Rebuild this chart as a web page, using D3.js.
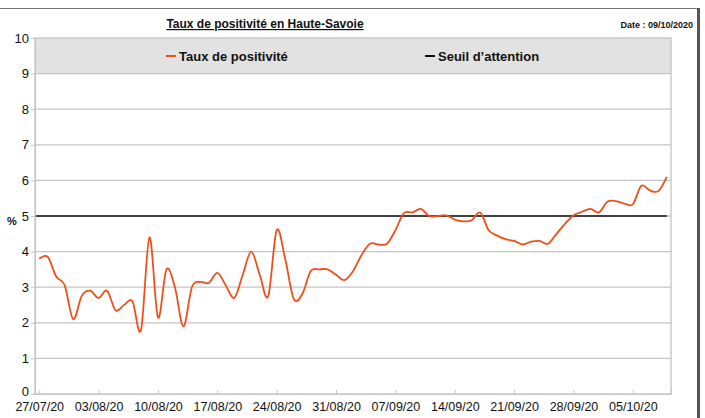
<!DOCTYPE html>
<html><head><meta charset="utf-8">
<script src="https://cdn.jsdelivr.net/npm/d3@7"></script>
<style>body{margin:0;background:#fff}svg{display:block;font-family:"Liberation Sans",Arial,sans-serif}</style>
</head><body><svg id="c" width="705" height="418"></svg>
<script>
const startDate = "2020-07-27";
const positivite = [3.8,3.85,3.3,3.05,2.1,2.75,2.9,2.7,2.9,2.35,
2.5,2.6,1.8,4.4,2.15,3.5,3.0,1.9,3.0,3.15,
3.12,3.4,3.05,2.7,3.35,4.0,3.35,2.75,4.6,3.8,
2.68,2.8,3.45,3.5,3.5,3.35,3.2,3.45,3.9,4.22,
4.2,4.22,4.6,5.08,5.1,5.2,5.0,5.0,5.02,4.9,
4.85,4.88,5.1,4.6,4.45,4.35,4.3,4.2,4.28,4.3,
4.22,4.5,4.78,5.02,5.12,5.2,5.1,5.4,5.42,5.35,
5.33,5.85,5.72,5.7,6.1];
const seuil = 5;
const yTicks = [0,1,2,3,4,5,6,7,8,9,10];
const xTickLabels = ["27/07/20","03/08/20","10/08/20","17/08/20","24/08/20","31/08/20","07/09/20","14/09/20","21/09/20","28/09/20","05/10/20"];
const titre = "Taux de positivité en Haute-Savoie";
const dateTxt = "Date : 09/10/2020";
const legendNames = ["Taux de positivité","Seuil d\u2019attention"];

const parse = d3.timeParse("%Y-%m-%d");
const t0 = parse(startDate);
const dates = positivite.map((v,i)=>d3.timeDay.offset(t0,i));
const data = positivite.map((v,i)=>({date:dates[i], v}));
const half = 12*3600*1000;

const svg = d3.select("#c");
const L=35, R=671, T=38, B=394;
const x = d3.scaleTime().domain([new Date(+dates[0]-half), new Date(+dates[dates.length-1]+half)]).range([L,R]);
const y = d3.scaleLinear().domain([0,10]).range([B,T]);

// frame
svg.append("line").attr("x1",0).attr("x2",699).attr("y1",8.5).attr("y2",8.5).attr("stroke","#777").attr("stroke-width",1);
svg.append("line").attr("x1",698.5).attr("x2",698.5).attr("y1",8).attr("y2",418).attr("stroke","#555").attr("stroke-width",3);

// legend band
svg.append("rect").attr("x",L).attr("y",y(10)).attr("width",R-L).attr("height",y(9)-y(10)).attr("fill","#e2e2e2");

// gridlines
svg.append("g").selectAll("line").data(yTicks.filter(d=>d>0&&d<10)).join("line")
  .attr("x1",L).attr("x2",R).attr("y1",d=>y(d)).attr("y2",d=>y(d))
  .attr("stroke","#c4c4c4").attr("stroke-width",1.3);

// plot border
svg.append("rect").attr("x",L).attr("y",T).attr("width",R-L).attr("height",B-T).attr("fill","none").attr("stroke","#c4c4c4").attr("stroke-width",1.3);

// y axis
const yAx = svg.append("g").attr("transform",`translate(${L},0)`)
  .call(d3.axisLeft(y).tickValues(yTicks).tickSize(4).tickPadding(2).tickFormat(d3.format("d")));
yAx.select(".domain").attr("stroke","#c4c4c4");
yAx.selectAll(".tick line").attr("stroke","#c4c4c4");
yAx.selectAll("text").attr("font-size",13).attr("fill","#111").attr("font-family","Liberation Sans, Arial, sans-serif");
yAx.selectAll(".tick").filter(d=>d===0).select("text").attr("dy","0.12em");

// x axis
const tickDates = xTickLabels.map(s=>d3.timeParse("%d/%m/%y")(s));
const xAx = svg.append("g").attr("transform",`translate(0,${B})`)
  .call(d3.axisBottom(x).tickValues(tickDates).tickSize(-4).tickPadding(8).tickFormat(d3.timeFormat("%d/%m/%y")));
xAx.select(".domain").attr("stroke","#c4c4c4");
xAx.selectAll(".tick line").attr("stroke","#c4c4c4");
xAx.selectAll("text").attr("font-size",12.5).attr("fill","#111").attr("font-family","Liberation Sans, Arial, sans-serif");

// seuil line
svg.append("line").attr("x1",L+1).attr("x2",x(dates[dates.length-1])).attr("y1",y(seuil)).attr("y2",y(seuil))
  .attr("stroke","#111").attr("stroke-width",1.4);

// positivity line
svg.append("path").datum(data)
  .attr("d",d3.line().x(d=>x(d.date)).y(d=>y(d.v)).curve(d3.curveCatmullRom.alpha(0)))
  .attr("fill","none").attr("stroke","#ef4f1c").attr("stroke-width",1.8);

// title
svg.append("text").attr("x",265).attr("y",28).attr("text-anchor","middle").attr("font-size",12).attr("font-weight","bold")
  .attr("text-decoration","underline").attr("fill","#111").text(titre);
svg.append("text").attr("x",693).attr("y",28).attr("text-anchor","end").attr("font-size",9).attr("font-weight","bold").attr("fill","#111").text(dateTxt);

// y label
svg.append("text").attr("x",12).attr("y",225).attr("text-anchor","middle").attr("font-size",11).attr("font-weight","bold").attr("fill","#111").text("%");

// legend
const leg = [{n:legendNames[0],c:"#ef4f1c",x:166},{n:legendNames[1],c:"#111",x:425}];
const lg = svg.append("g").selectAll("g").data(leg).join("g").attr("transform",d=>`translate(${d.x},56)`);
lg.append("line").attr("x1",0).attr("x2",10).attr("y1",0).attr("y2",0).attr("stroke",d=>d.c).attr("stroke-width",2);
lg.append("text").attr("x",13).attr("y",5).attr("font-size",13).attr("font-weight","bold").attr("fill","#111").text(d=>d.n);
</script></body></html>
